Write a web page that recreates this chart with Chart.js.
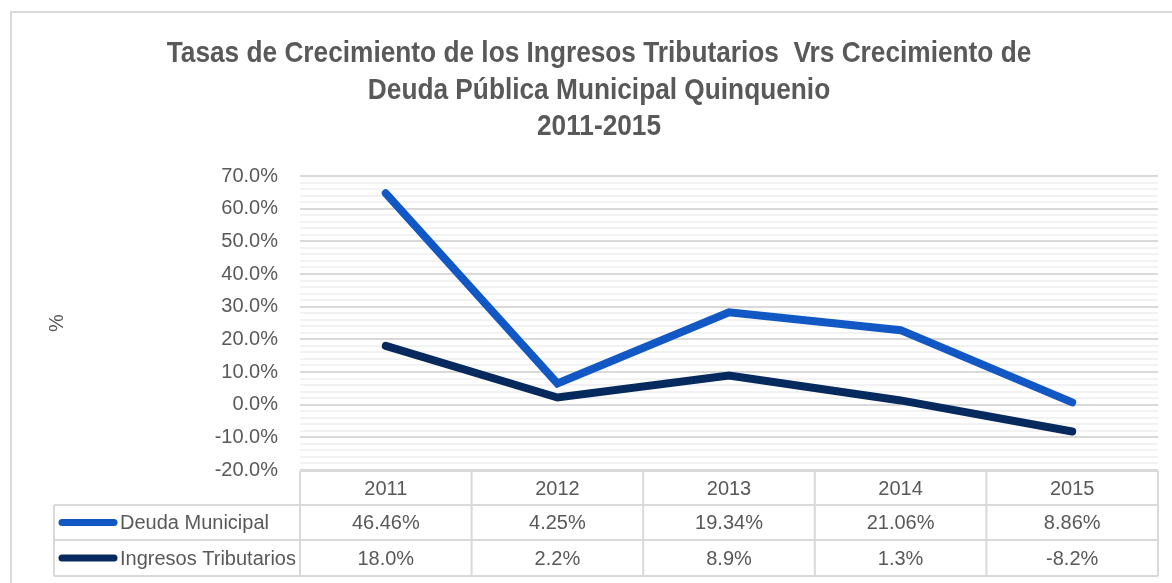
<!DOCTYPE html>
<html>
<head>
<meta charset="utf-8">
<script src="https://cdn.jsdelivr.net/npm/chart.js@4"></script>
<style>
  html, body { margin: 0; padding: 0; background: #fff; overflow: hidden; }
  .wrap { position: relative; width: 1172px; height: 583px; }
  .marco { position: absolute; left: 10px; top: 11px; width: 1200px; height: 620px; border: 2px solid #d9d9d9; box-sizing: border-box; }
  canvas { position: absolute; left: 0; top: 0; }
</style>
</head>
<body>
<div class="wrap">
  <div class="marco"></div>
  <canvas id="grafico" width="1172" height="583"></canvas>
</div>
<script>
var anios = ['2011', '2012', '2013', '2014', '2015'];
var deudaMunicipal = [64.7, 6.5, 28.3, 22.8, 0.7];
var ingresosTributarios = [18.0, 2.2, 8.9, 1.3, -8.2];
var deudaTabla = ['46.46%', '4.25%', '19.34%', '21.06%', '8.86%'];
var ingresosTabla = ['18.0%', '2.2%', '8.9%', '1.3%', '-8.2%'];
var series = ['Deuda Municipal', 'Ingresos Tributarios'];
var colores = ['#1258c4', '#072a5e'];
var titulo = ['Tasas de Crecimiento de los Ingresos Tributarios  Vrs Crecimiento de',
              'Deuda Pública Municipal Quinquenio', '2011-2015'];

var FUENTE = "'Liberation Sans Narrow', 'Arial Narrow', 'Liberation Sans', sans-serif";
var GRIS = '#595959';
var BORDE = '#d9d9d9';

// titulo angosto (no hay Arial Narrow, se comprime a mano)
var tituloAngosto = {
  id: 'tituloAngosto',
  afterDraw: function (chart) {
    var ctx = chart.ctx;
    var bases = [62, 98.5, 135];
    ctx.save();
    ctx.fillStyle = GRIS;
    ctx.font = 'bold 30px ' + FUENTE;
    ctx.textAlign = 'center';
    ctx.textBaseline = 'alphabetic';
    ctx.scale(0.875, 1);
    titulo.forEach(function (t, i) {
      ctx.fillText(t, 599 / 0.875, bases[i]);
    });
    ctx.restore();
  }
};

// tabla de datos bajo el grafico (Chart.js no la trae)
var tablaDatos = {
  id: 'tablaDatos',
  afterDraw: function (chart) {
    var ctx = chart.ctx;
    var area = chart.chartArea;
    var x = chart.scales.x;
    var ancho = (area.right - area.left) / anios.length;
    var izq = 54;
    var filas = [area.bottom + 1, 505, 540, 576];

    ctx.save();
    ctx.strokeStyle = BORDE;
    ctx.lineWidth = 2;
    ctx.beginPath();
    ctx.moveTo(area.left, filas[0]); ctx.lineTo(area.right, filas[0]);
    for (var f = 1; f < filas.length; f++) {
      ctx.moveTo(izq, filas[f]); ctx.lineTo(area.right, filas[f]);
    }
    ctx.moveTo(izq, filas[1]); ctx.lineTo(izq, filas[3]);
    for (var i = 0; i <= anios.length; i++) {
      var xx = area.left + i * ancho;
      ctx.moveTo(xx, filas[0]); ctx.lineTo(xx, filas[3]);
    }
    ctx.stroke();

    ctx.fillStyle = GRIS;
    ctx.font = '20px ' + FUENTE;
    ctx.textAlign = 'center';
    ctx.textBaseline = 'middle';
    anios.forEach(function (a, i) {
      var cx = x.getPixelForValue(i);
      ctx.fillText(a, cx, (filas[0] + filas[1]) / 2 + 1);
      ctx.fillText(deudaTabla[i], cx, (filas[1] + filas[2]) / 2 + 1);
      ctx.fillText(ingresosTabla[i], cx, (filas[2] + filas[3]) / 2 + 1);
    });

    // leyenda dentro de la tabla
    ctx.textAlign = 'left';
    series.forEach(function (s, k) {
      var cy = (filas[k + 1] + filas[k + 2]) / 2;
      ctx.strokeStyle = colores[k];
      ctx.lineWidth = 7;
      ctx.lineCap = 'round';
      ctx.beginPath();
      ctx.moveTo(62, cy); ctx.lineTo(114, cy);
      ctx.stroke();
      ctx.fillText(s, 120, cy + 1);
    });
    ctx.restore();
  }
};

new Chart(document.getElementById('grafico'), {
  type: 'line',
  data: {
    labels: anios,
    datasets: [{
      label: series[0],
      data: deudaMunicipal,
      borderColor: colores[0],
      backgroundColor: colores[0],
      borderWidth: 8, borderCapStyle: 'round', borderJoinStyle: 'miter',
      pointRadius: 0, tension: 0
    }, {
      label: series[1],
      data: ingresosTributarios,
      borderColor: colores[1],
      backgroundColor: colores[1],
      borderWidth: 8, borderCapStyle: 'round', borderJoinStyle: 'miter',
      pointRadius: 0, tension: 0
    }]
  },
  options: {
    responsive: false,
    animation: false,
    layout: { padding: { left: 41, right: 14, top: 176, bottom: 113 } },
    plugins: {
      legend: { display: false },
      tooltip: { enabled: false },
      title: { display: false }
    },
    scales: {
      x: { display: false, offset: true },
      y: {
        min: -20, max: 70,
        afterFit: function (s) { s.width = 259; },
        border: { display: false },
        grid: {
          drawTicks: false,
          lineWidth: 2,
          color: function (c) { return Math.round(c.tick.value) % 10 === 0 ? '#d9d9d9' : '#f2f2f2'; }
        },
        ticks: {
          stepSize: 2, autoSkip: false, padding: 22,
          color: GRIS,
          font: { family: FUENTE, size: 20 },
          callback: function (v) { return Math.round(v) % 10 === 0 ? v.toFixed(1) + '%' : ''; }
        },
        title: { display: true, text: '%', color: GRIS, font: { family: FUENTE, size: 20 } }
      }
    }
  },
  plugins: [tituloAngosto, tablaDatos]
});
</script>
</body>
</html>
